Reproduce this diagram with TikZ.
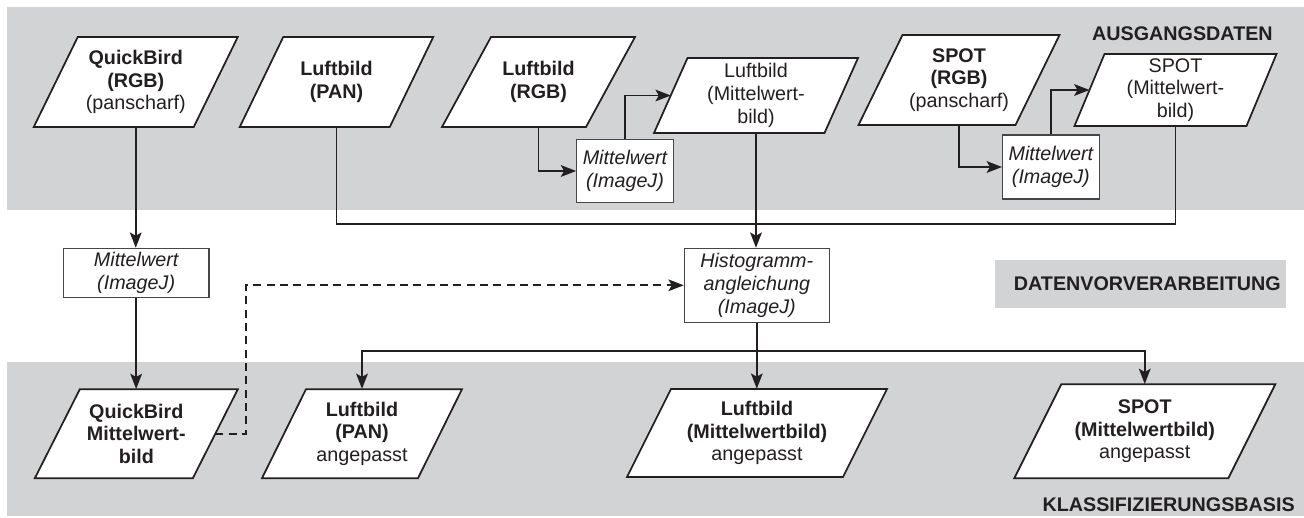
\documentclass[tikz,border=0pt]{standalone}
\usepackage{fontspec}
\setmainfont{Liberation Sans}
\usetikzlibrary{arrows.meta}

\definecolor{band}{RGB}{209,211,212}
\definecolor{ink}{RGB}{35,31,32}
\definecolor{boxline}{RGB}{70,70,70}

\tikzset{
  every node/.style={text=ink},
  txt/.style={font=\fontsize{14.8}{17}\selectfont, align=center, inner sep=0pt},
  paraline/.style={draw=ink, fill=white, line width=1.3pt, line join=miter},
  proc/.style={txt, font=\fontsize{14.8}{17}\selectfont\itshape,
    draw=boxline, fill=white, line width=0.8pt},
  link/.style={draw=ink, line width=1.3pt},
  flow/.style={link, -{Stealth[length=11.5pt,width=8.8pt,inset=2.5pt]}},
  bandlabel/.style={font=\fontsize{14.8}{17}\selectfont\bfseries, inner sep=0pt},
}

% data object: name, centre x, centre y, side length, height, slant offset, text
\newcommand\datashape[7]{%
  \path[paraline] ({#2-#4/2+#6/2},{#3-#5/2}) -- ({#2+#4/2+#6/2},{#3-#5/2})
    -- ({#2+#4/2-#6/2},{#3+#5/2}) -- ({#2-#4/2-#6/2},{#3+#5/2}) -- cycle;
  \node[txt, minimum height={#5*0.75pt}] (#1) at (#2,#3) {#7};
  \coordinate (#1-w) at ({#2-#4/2},#3);
  \coordinate (#1-e) at ({#2+#4/2},#3);
}

\begin{document}
\begin{tikzpicture}[x=0.75pt,y=-0.75pt]
\useasboundingbox (0,0) rectangle (1304,518);

% stage bands
\fill[band] (7,7) rectangle (1304,210);
\fill[band] (7,362) rectangle (1304,516);
\fill[band] (995,260) rectangle (1286,308);

\node[bandlabel, anchor=base east] (lab1) at (1273,40) {AUSGANGSDATEN};
\node[bandlabel, anchor=base east] (lab2) at (1281,290.7) {DATENVORVERARBEITUNG};
\node[bandlabel, anchor=base east] (lab3) at (1295,511.7) {KLASSIFIZIERUNGSBASIS};

% source data
\datashape{qbin}{135.75}{82}{160}{90}{44}{\textbf{QuickBird}\\\textbf{(RGB)}\\(panscharf)}
\datashape{lpan}{336.5}{82}{150}{90}{43.5}{\textbf{Luftbild}\\\textbf{(PAN)}}
\datashape{lrgb}{538.5}{82}{144}{90}{49}{\textbf{Luftbild}\\\textbf{(RGB)}}
\datashape{lmw}{756}{95.5}{170.5}{75}{33.5}{Luftbild\\(Mittelwert-\\bild)}
\datashape{srgb}{959}{80}{157}{90}{44}{\textbf{SPOT}\\\textbf{(RGB)}\\(panscharf)}
\datashape{smw}{1175.5}{90}{172}{72}{30}{SPOT\\(Mittelwert-\\bild)}

% classification basis
\datashape{qbout}{136.3}{433.8}{158}{89}{45}{\textbf{QuickBird}\\\textbf{Mittelwert-}\\\textbf{bild}}
\datashape{lpanout}{362}{433.7}{156}{89}{44}{\textbf{Luftbild}\\\textbf{(PAN)}\\angepasst}
\datashape{lmwout}{757}{433}{216}{88}{44}{\textbf{Luftbild}\\\textbf{(Mittelwertbild)}\\angepasst}
\datashape{smwout}{1144.75}{431.3}{214}{94}{47}{\textbf{SPOT}\\\textbf{(Mittelwertbild)}\\angepasst}

% processing steps
\node[proc, minimum width=72.5pt, minimum height=47.5pt] (mwl) at (625,171) {Mittelwert\\(ImageJ)};
\node[proc, minimum width=72.5pt, minimum height=48pt] (mws) at (1050.85,167) {Mittelwert\\(ImageJ)};
\node[proc, minimum width=109.3pt, minimum height=36.75pt] (mwq) at (136.15,272.8) {Mittelwert\\(ImageJ)};
\node[proc, minimum width=108.75pt, minimum height=55.5pt] (hist) at (756.8,285.3) {Histogramm-\\angleichung\\(ImageJ)};

% connectors
\draw[flow] (qbin.south) -- (qbin.south |- mwq.north);
\draw[flow] (mwq.south) -- (mwq.south |- qbout.north);
\draw[flow] (lrgb.south) |- (mwl.west);
\draw[flow] (mwl.north) |- (lmw-w);
\draw[flow] (srgb.south) |- (mws.west);
\draw[flow] (mws.north) |- (smw-w);

\coordinate (bus) at (756.5,224);
\draw[link] (lpan.south) |- (bus) -| (smw.south);
\draw[flow] (lmw.south) -- (lmw.south |- hist.north);

\coordinate (split) at (756.8,350.7);
\draw[flow] (hist.south) -- (hist.south |- lmwout.north);
\draw[flow] (split) -| (lpanout.north);
\draw[flow] (split) -| (smwout.north);

\coordinate (dturn) at (245.7,360);
\draw[flow, dash pattern=on 6pt off 4pt] (qbout-e) -| (dturn) |- (hist.west);
\end{tikzpicture}
\end{document}
